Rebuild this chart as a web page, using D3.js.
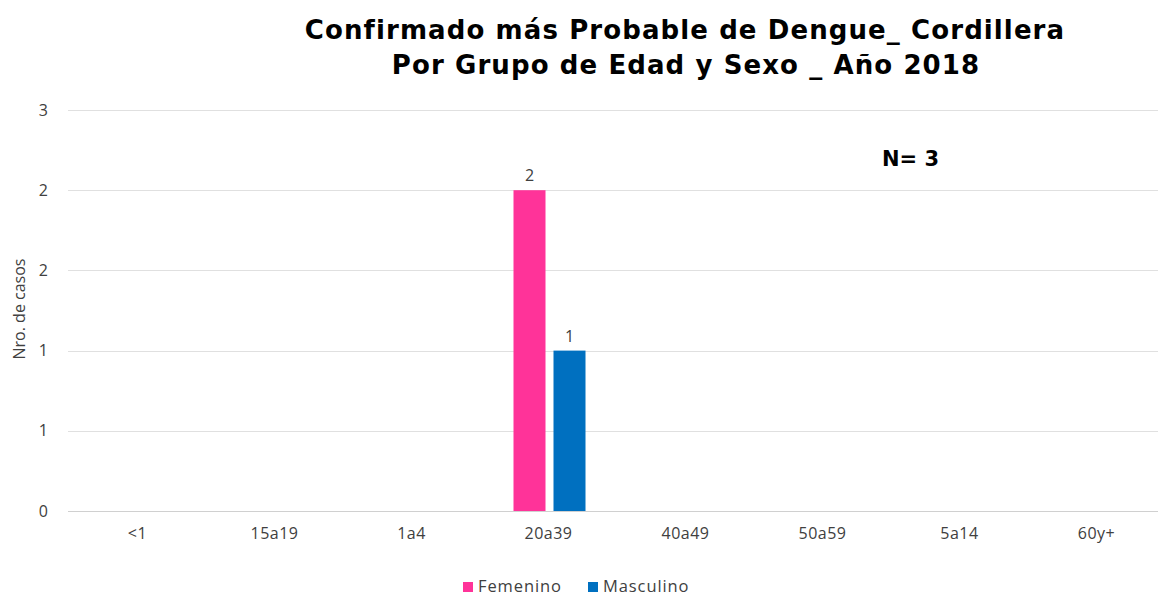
<!DOCTYPE html>
<html>
<head>
<meta charset="utf-8">
<script src="https://cdn.jsdelivr.net/npm/d3@7"></script>
<style>
  body { margin: 0; background: #fff; }
  text { font-family: "Open Sans", "Noto Sans", sans-serif; }
</style>
</head>
<body>
<script>
var width = 1158,
    height = 595;

// Data
var categories = ['<1', '15a19', '1a4', '20a39', '40a49', '50a59', '5a14', '60y+'];
var seriesNames = ['Femenino', 'Masculino'];
var femenino = [0, 0, 0, 2, 0, 0, 0, 0];
var masculino = [0, 0, 0, 1, 0, 0, 0, 0];
var yTicks = [0, 0.5, 1, 1.5, 2, 2.5];
var colors = ['#FF3399', '#0070C0'];

var svg = d3.select('body').append('svg')
    .attr('width', width)
    .attr('height', height);

var margin = {top: 110, right: 0, bottom: 84, left: 68};

var x = d3.scaleBand()
    .domain(categories)
    .range([69, 1165]);

var x1 = d3.scaleBand()
    .domain(seriesNames)
    .range([x.bandwidth() / 2 - 35, x.bandwidth() / 2 + 37])
    .paddingInner(0.2);

var y = d3.scaleLinear()
    .domain([0, 2.5])
    .range([height - margin.bottom, margin.top]);

// gridlines
svg.append('g')
  .selectAll('line')
  .data(yTicks)
  .enter().append('line')
    .attr('x1', margin.left)
    .attr('x2', width)
    .attr('y1', function(d) { return Math.round(y(d)) + 0.5; })
    .attr('y2', function(d) { return Math.round(y(d)) + 0.5; })
    .style('stroke', function(d) { return d === 0 ? '#d0d0d0' : '#e0e0e0'; })
    .style('stroke-width', 1);

// y tick labels (rounded like the original)
svg.append('g')
  .selectAll('text')
  .data(yTicks)
  .enter().append('text')
    .attr('x', 48)
    .attr('y', function(d) { return y(d); })
    .attr('dy', '0.35em')
    .attr('text-anchor', 'end')
    .style('font-size', '16px')
    .style('fill', '#404040')
    .text(function(d) { return Math.round(d + 1e-9); });

// x labels
svg.append('g')
  .selectAll('text')
  .data(categories)
  .enter().append('text')
    .attr('x', function(d) { return x(d) + x.bandwidth() / 2; })
    .attr('y', 539)
    .attr('text-anchor', 'middle')
    .style('font-size', '16px')
    .style('letter-spacing', '0.5px')
    .style('fill', '#404040')
    .text(function(d) { return d; });

// bars
var series = [femenino, masculino];
series.forEach(function(vals, i) {
  var g = svg.append('g');
  var data = categories.map(function(c, j) { return {cat: c, v: vals[j]}; })
      .filter(function(d) { return d.v > 0; });
  g.selectAll('rect')
    .data(data)
    .enter().append('rect')
      .attr('x', function(d) { return x(d.cat) + x1(seriesNames[i]); })
      .attr('y', function(d) { return y(d.v); })
      .attr('width', x1.bandwidth())
      .attr('height', function(d) { return y(0) - y(d.v); })
      .attr('fill', colors[i]);
  g.selectAll('text')
    .data(data)
    .enter().append('text')
      .attr('x', function(d) { return x(d.cat) + x1(seriesNames[i]) + x1.bandwidth() / 2; })
      .attr('y', function(d) { return y(d.v) - 9; })
      .attr('text-anchor', 'middle')
      .style('font-size', '16px')
      .style('fill', '#404040')
      .text(function(d) { return d.v; });
});

// y axis title
svg.append('text')
    .attr('transform', 'translate(25,' + 309 + ') rotate(-90)')
    .attr('text-anchor', 'middle')
    .style('font-size', '16px')
    .style('fill', '#404040')
    .text('Nro. de casos');

// title
var title = svg.append('text')
    .attr('text-anchor', 'middle')
    .style('font-family', '"DejaVu Sans", sans-serif')
    .style('font-size', '26px')
    .style('font-weight', 'bold')
    .style('letter-spacing', '1.1px')
    .style('fill', '#000');
title.append('tspan').attr('x', 685).attr('y', 39).text('Confirmado más Probable de Dengue_ Cordillera');
title.append('tspan').attr('x', 686).attr('y', 74).text('Por Grupo de Edad y Sexo _ Año 2018');

// N
svg.append('text')
    .attr('x', 882)
    .attr('y', 166)
    .style('font-family', '"DejaVu Sans", sans-serif')
    .style('font-size', '21px')
    .style('font-weight', 'bold')
    .text('N= 3');

// legend
var legendX = [463, 588];
var legend = svg.append('g')
  .selectAll('g')
  .data(seriesNames)
  .enter().append('g')
    .attr('transform', function(d, i) { return 'translate(' + legendX[i] + ',582)'; });
legend.append('rect')
    .attr('width', 10)
    .attr('height', 10)
    .attr('fill', function(d, i) { return colors[i]; });
legend.append('text')
    .attr('x', 15)
    .attr('y', 9.5)
    .style('font-size', '16.5px')
    .style('letter-spacing', '0.9px')
    .style('fill', '#404040')
    .text(function(d) { return d; });
</script>
</body>
</html>
